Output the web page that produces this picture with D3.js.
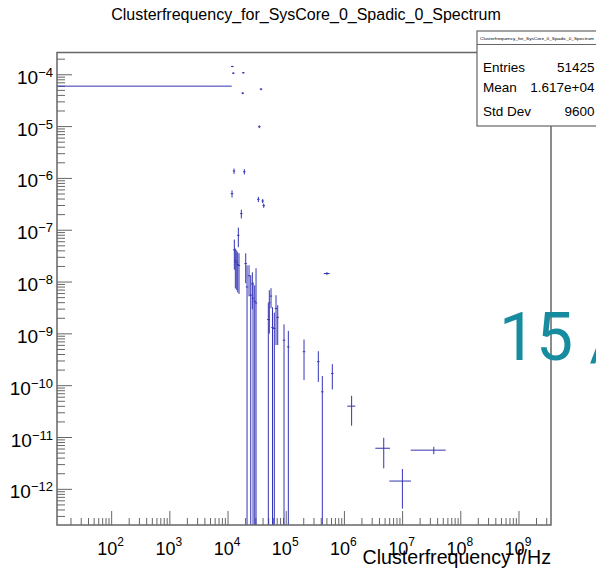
<!DOCTYPE html>
<meta charset="utf-8">
<script src="https://d3js.org/d3.v7.min.js"></script>
<style>
  body { margin: 0; background: #fff; }
  svg text { font-family: "Liberation Sans", Arial, sans-serif; }
</style>
<div id="chart"></div>
<script>
// Histogram bins (Hz, arbitrary normalised units)
const binCenter = [5.79e3, 1.185e4, 1.233e4, 1.832e4, 1.789e4, 3.69e4, 3.45e4, 1.268e4, 1.906e4, 1.171e4,
  3.316e4, 3.947e4, 4.106e4, 1.692e4, 1.503e4, 1.283e4, 1.335e4, 1.411e4, 1.468e4, 1.545e4,
  2.014e4, 2.121e4, 2.295e4, 2.455e4, 2.616e4, 2.689e4, 2.876e4, 3.028e4, 4.925e4, 5.124e4,
  5.480e4, 5.816e4, 6.245e4, 6.678e4, 7.145e4, 9.167e4, 1.087e5, 2.022e5, 3.561e5, 4.172e5,
  5.0e5, 6.196e5, 1.33e6, 4.74e6, 9.92e6, 3.44e7];
const binHalfWidth = [5.79e3, 6e2, 6e2, 9e2, 9e2, 1.8e3, 1.7e3, 6e2, 9e2, 6e2,
  1.6e3, 1.9e3, 2e3, 8e2, 7e2, 6e2, 6e2, 7e2, 7e2, 7e2,
  1e3, 1e3, 1.1e3, 1.2e3, 1.2e3, 1.3e3, 1.4e3, 1.4e3, 2.4e3, 2.4e3,
  2.6e3, 2.8e3, 3e3, 3.2e3, 3.4e3, 4.4e3, 5.2e3, 9.6e3, 1.7e4, 2e4,
  5.9e4, 3e4, 2.1e5, 1.34e6, 4.0e6, 2.06e7];
const binContent = [6.03e-5, 1.445e-4, 1.074e-4, 1.094e-4, 4.42e-5, 5.28e-5, 9.94e-6, 1.386e-6, 1.349e-6, 5.08e-7,
  3.945e-7, 3.66e-7, 2.983e-7, 2.091e-7, 7.98e-8, 4.17e-8, 2.585e-8, 2.40e-8, 2.19e-8, 2.09e-8,
  2.27e-8, 8.04e-9, 1.32e-8, 5.57e-9, 9.22e-9, 4.87e-9, 4.27e-9, 3.955e-9, 1.892e-9, 3.98e-9,
  5.36e-9, 1.327e-9, 1.269e-9, 3.09e-9, 2.09e-9, 7.55e-10, 5.61e-10, 4.53e-10, 2.91e-10, 7.61e-11,
  1.459e-8, 1.725e-10, 4.03e-11, 6.21e-12, 1.445e-12, 5.7e-12];
const binError = [3e-7, 4e-6, 4e-6, 4e-6, 2e-6, 2.5e-6, 6e-7, 1.63e-7, 1.6e-7, 8e-8,
  4.6e-8, 3.4e-8, 2.8e-8, 4.06e-8, 3.27e-8, 2.43e-8, 1.835e-8, 1.70e-8, 1.56e-8, 1.50e-8,
  1.32e-8, 1.30e-8, 0.79e-8, 7.95e-9, 6.23e-9, 5.0e-9, 4.4e-9, 1.45e-8, 2.0e-9, 2.97e-9,
  2.24e-9, 1.94e-9, 1.3e-9, 2.48e-9, 1.48e-9, 7.7e-10, 5.8e-10, 3.25e-10, 1.725e-10, 7.8e-11,
  1.0e-9, 8.78e-11, 2.34e-11, 3.67e-12, 1.02e-12, 0.92e-12];

const xRange = [11.5, 3.55e9];
const yRange = [2.05e-13, 2.69e-4];
const xLabelExp = [2, 3, 4, 5, 6, 7, 8, 9];
const yLabelExp = [-4, -5, -6, -7, -8, -9, -10, -11, -12];

const title = "Clusterfrequency_for_SysCore_0_Spadic_0_Spectrum";
const statNames = ["Entries", "Mean", "Std Dev"];
const statValues = ["51425", "1.617e+04", "9600"];

const W = 596, H = 569;
const frame = {left: 57, right: 551, top: 52.5, bottom: 525};

const svg = d3.select("#chart").append("svg")
  .attr("width", W).attr("height", H);

const x = d3.scaleLog().domain(xRange).range([frame.left, frame.right]);
const y = d3.scaleLog().domain(yRange).range([frame.bottom, frame.top]);

const isMajor = t => Math.abs(Math.log10(t) - Math.round(Math.log10(t))) < 1e-6;
const axisColor = "#666";

// title
svg.append("text")
  .attr("x", 306).attr("y", 20)
  .attr("text-anchor", "middle")
  .style("font-size", "16px")
  .text(title);

// clip for data
svg.append("clipPath").attr("id", "clip")
  .append("rect")
  .attr("x", frame.left).attr("y", frame.top)
  .attr("width", frame.right - frame.left).attr("height", frame.bottom - frame.top);

// ticks on x (upward from bottom)
svg.append("g").selectAll("line")
  .data(x.ticks(20))
  .join("line")
    .attr("x1", d => x(d)).attr("x2", d => x(d))
    .attr("y1", frame.bottom).attr("y2", d => frame.bottom - (isMajor(d) ? 14 : 7))
    .attr("stroke", axisColor).attr("stroke-width", 1);

// ticks on y (rightward from left)
svg.append("g").selectAll("line")
  .data(y.ticks(20))
  .join("line")
    .attr("y1", d => y(d)).attr("y2", d => y(d))
    .attr("x1", frame.left).attr("x2", d => frame.left + (isMajor(d) ? 15 : 8))
    .attr("stroke", axisColor).attr("stroke-width", 1);

// data: error bars in ROOT style
const bins = binCenter.map((c, i) => ({c, hw: binHalfWidth[i], v: binContent[i], e: binError[i]}));
const data = svg.append("g").attr("clip-path", "url(#clip)")
  .attr("stroke", "#3434b4").attr("stroke-width", 1);

data.selectAll(".h")
  .data(bins)
  .join("line")
    .attr("class", "h")
    .attr("x1", d => x(Math.max(d.c - d.hw, xRange[0])))
    .attr("x2", d => x(d.c + d.hw))
    .attr("y1", d => y(d.v)).attr("y2", d => y(d.v));

data.selectAll(".v")
  .data(bins)
  .join("line")
    .attr("class", "v")
    .attr("x1", d => x(d.c)).attr("x2", d => x(d.c))
    .attr("y1", d => d.v - d.e > yRange[0] ? y(d.v - d.e) : frame.bottom + 2)
    .attr("y2", d => y(d.v + d.e));

// frame
const fr = svg.append("g").attr("fill", "none").attr("stroke", axisColor).attr("stroke-width", 1.5);
fr.append("rect")
  .attr("x", frame.left).attr("y", frame.top)
  .attr("width", frame.right - frame.left).attr("height", frame.bottom - frame.top);

// y labels
const yl = svg.append("g").style("font-size", "19px");
yLabelExp.forEach(p => {
  const t = yl.append("text")
    .attr("x", 53).attr("y", y(Math.pow(10, p)) + 9)
    .attr("text-anchor", "end");
  t.append("tspan").text("10");
  t.append("tspan").attr("dy", -7).style("font-size", "13px").text("\u2212" + (-p));
});

// x labels
const xl = svg.append("g").style("font-size", "18px");
xLabelExp.forEach(p => {
  const t = xl.append("text")
    .attr("x", x(Math.pow(10, p)) - 1).attr("y", 555)
    .attr("text-anchor", "middle");
  t.append("tspan").text("10");
  t.append("tspan").attr("dy", -9).style("font-size", "12px").text(p);
});

// axis title
svg.append("text")
  .attr("x", frame.right).attr("y", 564)
  .attr("text-anchor", "end")
  .style("font-size", "19.6px")
  .text("Clusterfrequency f/Hz");

// stats box
const box = {x: 477, y: 31, w: 130, h: 95};
const sb = svg.append("g");
sb.append("rect")
  .attr("x", box.x).attr("y", box.y).attr("width", box.w).attr("height", box.h)
  .attr("fill", "#fff").attr("stroke", axisColor).attr("stroke-width", 1.2);
sb.append("line")
  .attr("x1", box.x).attr("x2", box.x + box.w)
  .attr("y1", 44.5).attr("y2", 44.5)
  .attr("stroke", axisColor).attr("stroke-width", 1);
sb.append("text")
  .attr("x", 480).attr("y", 40)
  .attr("textLength", 114).attr("lengthAdjust", "spacingAndGlyphs")
  .style("font-size", "4.4px")
  .text(title);
const rowY = [72, 92, 116];
statNames.forEach((n, i) => {
  sb.append("text").attr("x", 483).attr("y", rowY[i])
    .style("font-size", "13.5px").text(n);
  sb.append("text").attr("x", 594.5).attr("y", rowY[i])
    .attr("text-anchor", "end")
    .style("font-size", "13.5px").text(statValues[i]);
});

// overlapping slide text at the right edge
svg.append("text")
  .attr("x", 499).attr("y", 360)
  .style("font-size", "66px")
  .style("font-family", "Roboto, 'Liberation Sans', sans-serif")
  .attr("fill", "#178c9e")
  .text("15 /");
</script>
